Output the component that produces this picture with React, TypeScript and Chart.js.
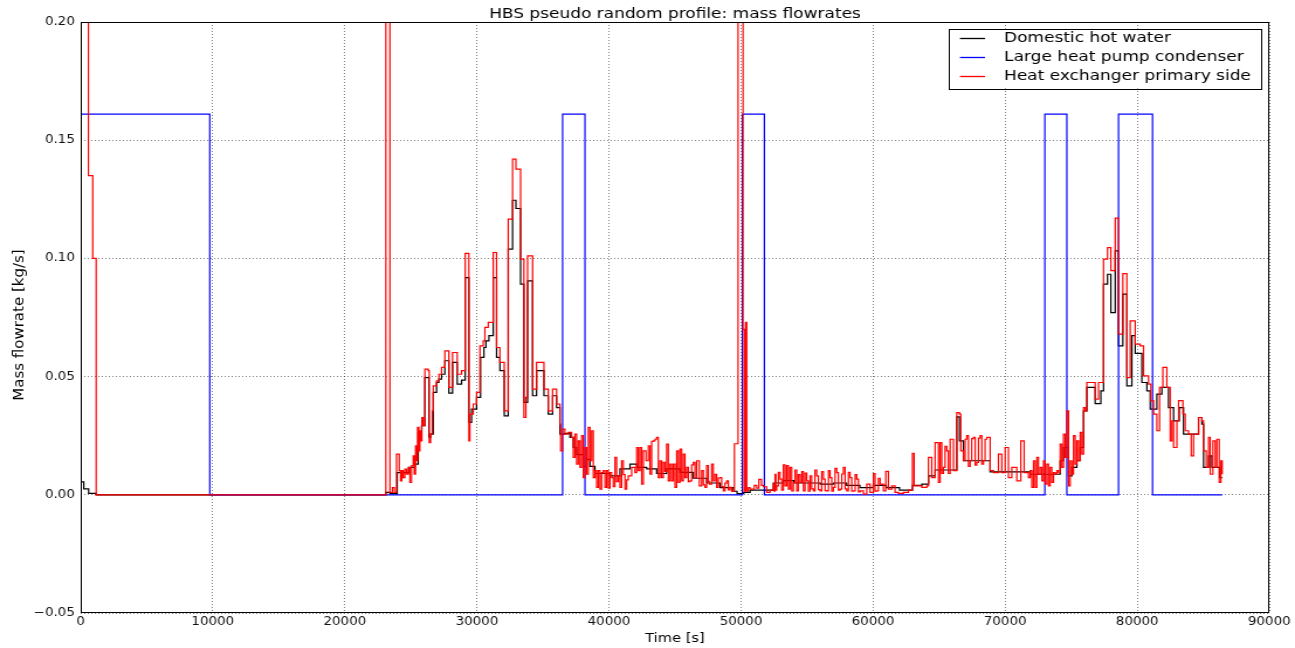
import React, { useEffect, useRef } from 'react';
import { Chart, registerables } from 'chart.js';

Chart.register(...registerables);

// ---- text ----
const TITLE = 'HBS pseudo random profile: mass flowrates';
const X_TITLE = 'Time [s]';
const Y_TITLE = 'Mass flowrate [kg/s]';
const SERIES_LABELS = ['Domestic hot water', 'Large heat pump condenser', 'Heat exchanger primary side'];
const SERIES_COLORS = ['#000000', '#0000ff', '#ff0000'];

// ---- axes ----
const X_MIN = 0;
const X_MAX = 90000;
const X_STEP = 10000;
const Y_MIN = -0.05;
const Y_MAX = 0.2;
const Y_STEP = 0.05;

// ---- data: [time s, mass flowrate kg/s], value holds until next time ----
const condenserSeries: [number, number][] = [
  [0, 0.161], [9773, 0], [36490, 0.161], [38182, 0], [50099, 0.161], [51767, 0],
  [73005, 0.161], [74672, 0], [78585, 0.161], [81160, 0], [86438, 0],
];

const dhwSeries: [number, number][] = [
  [0, 0.0055], [230, 0.0025], [600, 0.0006], [1170, 0], [23106, 0.001], [23409, 0.0005],
  [23965, 0.0094], [24874, 0.0116], [25303, 0.013], [25555, 0.0257], [25808, 0.0292], [26060, 0.0496],
  [26363, 0.0243], [26490, 0.0257], [26692, 0.0433], [26944, 0.0475], [27121, 0.0489], [27323, 0.051],
  [27575, 0.0567], [27878, 0.043], [28156, 0.056], [28509, 0.0468], [28838, 0.0485], [29116, 0.0919],
  [29393, 0.0306], [29595, 0.0362], [29974, 0.0412], [30277, 0.0581], [30530, 0.0623], [30681, 0.0651],
  [30908, 0.0673], [31237, 0.0919], [31489, 0.0581], [31742, 0.0525], [32070, 0.0334], [32373, 0.1039],
  [32701, 0.1246], [32953, 0.1211], [33307, 0.0891], [33560, 0.0391], [33837, 0.0905], [34216, 0.0419],
  [34519, 0.0525], [35075, 0.0419], [35403, 0.0341], [35731, 0.0419], [36034, 0.0369], [36287, 0.0257],
  [36667, 0.026], [37045, 0.0243], [37298, 0.02], [37550, 0.017], [38056, 0.012], [38308, 0.015],
  [38561, 0.012], [38939, 0.009], [40076, 0.008], [40833, 0.011], [41591, 0.013], [42096, 0.0116],
  [42853, 0.011], [43611, 0.009], [44368, 0.011], [45378, 0.0095], [46388, 0.007], [47398, 0.005],
  [48408, 0.003], [49418, 0.0015], [49700, 0.0005], [50200, 0.001], [50682, 0.002], [51700, 0.002],
  [52450, 0.005], [53200, 0.006], [54000, 0.005], [55000, 0.005], [56000, 0.0045], [57000, 0.005],
  [58000, 0.004], [59000, 0.003], [60000, 0.004], [61000, 0.003], [62000, 0.002], [62979, 0.004],
  [63700, 0.0045], [64200, 0.008], [64700, 0.0105], [65500, 0.0105], [66337, 0.033], [66540, 0.0228],
  [66842, 0.0144], [68862, 0.0097], [69700, 0.0097], [71894, 0.0087], [73030, 0.0087], [74167, 0.0144],
  [74419, 0.02], [74798, 0.008], [75050, 0.0116], [75429, 0.0144], [75682, 0.02], [75934, 0.0355],
  [76187, 0.0454], [76818, 0.0386], [77247, 0.044], [77449, 0.0891], [77752, 0.0933], [78005, 0.0771],
  [78333, 0.1032], [78585, 0.063], [78914, 0.0849], [79217, 0.0461], [79595, 0.0673], [79848, 0.0598],
  [80353, 0.0475], [80732, 0.044], [80984, 0.0362], [81489, 0.0426], [81868, 0.0454], [82373, 0.0369],
  [82752, 0.0313], [83181, 0.0369], [83509, 0.0257], [84645, 0.0327], [84898, 0.0299], [85024, 0.0116],
  [85403, 0.0165], [85655, 0.0116], [86236, 0.0073], [86438, 0.0073],
];

const primarySeries: [number, number][] = [
  [0, 0.3], [583, 0.135], [910, 0.1], [1170, 0], [23106, 0.3], [23409, 0.001], [23600, 0.003], [23750, 0.001],
  [23914, 0.0172], [24116, 0.0102], [24217, 0.0059], [24318, 0.0102], [24419, 0.0073], [24545, 0.0109],
  [24672, 0.0087], [24798, 0.0116], [24924, 0.0052], [25050, 0.0123], [25177, 0.0165], [25252, 0.0087],
  [25353, 0.0207], [25429, 0.0144], [25505, 0.0285], [25606, 0.0186], [25682, 0.0271], [25757, 0.0228],
  [25833, 0.0327], [25934, 0.0292], [26060, 0.0532], [26313, 0.0525], [26389, 0.0221], [26490, 0.0257],
  [26616, 0.0355], [26692, 0.0461], [26944, 0.0482], [27121, 0.051], [27323, 0.0539], [27575, 0.0609],
  [27878, 0.0454], [28156, 0.0602], [28509, 0.051], [28838, 0.0525], [29116, 0.1021], [29393, 0.0228],
  [29469, 0.0341], [29722, 0.0384], [29974, 0.0433], [30227, 0.063], [30479, 0.0651], [30605, 0.0708],
  [30858, 0.0729], [31237, 0.1025], [31489, 0.0623], [31742, 0.056], [32070, 0.0355], [32373, 0.1166],
  [32701, 0.142], [32953, 0.1378], [33307, 0.0997], [33560, 0.0327], [33711, 0.0412], [33837, 0.1011],
  [34216, 0.0447], [34519, 0.056], [35075, 0.0447], [35403, 0.0355], [35731, 0.0447], [36034, 0.0384],
  [36287, 0.0299], [36339, 0.0186], [36490, 0.0278], [36667, 0.0257], [36919, 0.0264], [37172, 0.0243],
  [37298, 0.0158], [37424, 0.0257], [37551, 0.013], [37677, 0.0228], [37803, 0.0116], [37929, 0.025],
  [38056, 0.0073], [38182, 0.02], [38308, 0.0087], [38434, 0.0285], [38561, 0.0144], [38687, 0.0271],
  [38813, 0.0073], [38939, 0.0102], [39066, 0.0031], [39192, 0.0102], [39318, 0.0024], [39444, 0.0094],
  [39571, 0.0102], [39697, 0.0031], [39823, 0.0102], [39949, 0.0028], [40076, 0.0094], [40202, 0.0073],
  [40328, 0.0035], [40454, 0.0158], [40581, 0.0056], [40707, 0.008], [40833, 0.0031], [40959, 0.0144],
  [41086, 0.0085], [41212, 0.0024], [41338, 0.0063], [41464, 0.008], [41717, 0.0116], [41969, 0.0094],
  [42096, 0.02], [42222, 0.0102], [42348, 0.02], [42474, 0.0045], [42601, 0.0186], [42803, 0.0144],
  [42979, 0.0207], [43106, 0.0087], [43232, 0.0226], [43358, 0.0228], [43484, 0.0235], [43611, 0.0243],
  [43737, 0.0073], [43863, 0.0144], [43989, 0.0073], [44116, 0.0137], [44242, 0.0099], [44368, 0.0214],
  [44494, 0.0059], [44621, 0.013], [44747, 0.0059], [44873, 0.013], [44999, 0.0031], [45126, 0.0186],
  [45252, 0.0052], [45378, 0.0193], [45504, 0.0059], [45631, 0.0172], [45757, 0.0073], [45883, 0.0116],
  [46009, 0.0056], [46136, 0.0059], [46262, 0.0127], [46388, 0.0137], [46514, 0.0071], [46641, 0.0144],
  [46843, 0.0038], [47019, 0.0102], [47146, 0.0042], [47272, 0.0031], [47398, 0.0123], [47524, 0.0056],
  [47600, 0.0045], [47777, 0.013], [47903, 0.0059], [48029, 0.0087], [48156, 0.0031], [48282, 0.0071],
  [48408, 0.0073], [48534, 0.0035], [48661, 0.0017], [48787, 0.0049], [48913, 0.0059], [49039, 0.0021],
  [49166, 0.0031], [49292, 0.0014], [49418, 0.0017], [49500, 0.0216], [49773, 0.3], [50152, 0.07],
  [50230, 0.0015], [50340, 0.073], [50430, 0.0015], [50550, 0.003], [50682, 0.0024], [51000, 0.004],
  [51187, 0.0028], [51350, 0.0065], [51550, 0.004], [51692, 0.0034], [51945, 0.001], [52197, 0.002],
  [52450, 0.0045], [52513, 0.0015], [52576, 0.0087], [52640, 0.002], [52702, 0.0038], [52830, 0.0095],
  [52955, 0.0066], [53080, 0.002], [53207, 0.0127], [53333, 0.0038], [53460, 0.0123], [53586, 0.0024],
  [53712, 0.0116], [53838, 0.0017], [53965, 0.0052], [54090, 0.0105], [54217, 0.0017], [54340, 0.0085],
  [54470, 0.0052], [54600, 0.0098], [54722, 0.0017], [54850, 0.0092], [54975, 0.0059], [55100, 0.0015],
  [55227, 0.008], [55350, 0.0025], [55480, 0.0017], [55600, 0.0105], [55732, 0.008], [55860, 0.0022],
  [55985, 0.0017], [56110, 0.0098], [56237, 0.0066], [56360, 0.0018], [56490, 0.0017], [56620, 0.0102],
  [56742, 0.0073], [56870, 0.0015], [56995, 0.0031], [57120, 0.0112], [57247, 0.0094], [57370, 0.002],
  [57500, 0.0024], [57630, 0.0088], [57752, 0.0116], [57880, 0.0025], [58005, 0.0017], [58130, 0.0095],
  [58257, 0.0073], [58380, 0.0015], [58510, 0.0017], [58640, 0.0085], [58762, 0.0066], [58890, 0.0012],
  [59015, 0.0017], [59267, 0.0003], [59520, 0.0045], [59772, 0.001], [60025, 0.009], [60150, 0.0015],
  [60277, 0.0017], [60400, 0.007], [60530, 0.0045], [60782, 0.0017], [60959, 0.0099], [61160, 0.0024],
  [61413, 0.0038], [61665, 0.001], [61918, 0.0006], [62297, 0.001], [62676, 0.002], [62979, 0.0175],
  [63105, 0.0038], [63307, 0.0038], [63686, 0.0031], [64065, 0.0038], [64191, 0.0158], [64443, 0.0073],
  [64696, 0.0221], [64948, 0.0052], [65075, 0.0221], [65200, 0.009], [65327, 0.0116], [65450, 0.0205],
  [65580, 0.0186], [65700, 0.009], [65832, 0.0235], [66085, 0.0102], [66337, 0.0348], [66539, 0.0341],
  [66640, 0.0186], [66842, 0.0144], [66970, 0.0235], [67095, 0.025], [67220, 0.012], [67347, 0.0144],
  [67470, 0.0238], [67600, 0.0243], [67730, 0.0125], [67852, 0.0137], [67980, 0.024], [68105, 0.025],
  [68230, 0.013], [68357, 0.0144], [68480, 0.0235], [68610, 0.0243], [68862, 0.0102], [69115, 0.0094],
  [69493, 0.0172], [69746, 0.0094], [69998, 0.02], [70251, 0.0073], [70503, 0.0116], [70882, 0.0059],
  [71185, 0.0228], [71438, 0.0094], [71766, 0.0073], [71894, 0.0102], [72020, 0.0031], [72147, 0.0144],
  [72273, 0.0031], [72399, 0.0158], [72525, 0.0087], [72652, 0.0116], [72778, 0.0059], [72904, 0.0144],
  [73030, 0.0045], [73157, 0.013], [73283, 0.0038], [73409, 0.0116], [73535, 0.0052], [73662, 0.0094],
  [73788, 0.0087], [73914, 0.0102], [74040, 0.0094], [74167, 0.0214], [74293, 0.0116], [74419, 0.0257],
  [74545, 0.0158], [74672, 0.0355], [74798, 0.0038], [74924, 0.0144], [75050, 0.0087], [75177, 0.025],
  [75303, 0.013], [75429, 0.0228], [75555, 0.0144], [75682, 0.0264], [75808, 0.0172], [75934, 0.0369],
  [76060, 0.0355], [76187, 0.0475], [76439, 0.0475], [76818, 0.0405], [77070, 0.0475], [77449, 0.0997],
  [77752, 0.1046], [78005, 0.0948], [78333, 0.117], [78585, 0.068], [78914, 0.0936], [79217, 0.0496],
  [79469, 0.0736], [79848, 0.0637], [80227, 0.063], [80479, 0.0503], [80858, 0.0468], [81035, 0.0398],
  [81237, 0.0341], [81489, 0.0271], [81691, 0.0454], [81944, 0.0539], [82247, 0.0454], [82499, 0.0228],
  [82625, 0.0313], [82752, 0.02], [83004, 0.0313], [83130, 0.0398], [83459, 0.0341], [83636, 0.0271],
  [83888, 0.0257], [84090, 0.0165], [84267, 0.0257], [84645, 0.0327], [84898, 0.0313], [85024, 0.0186],
  [85226, 0.0116], [85403, 0.0243], [85529, 0.0087], [85731, 0.0228], [85908, 0.0116], [86034, 0.0235],
  [86211, 0.0052], [86337, 0.0144], [86438, 0.0087],
];

// ---- canvas geometry (the reference is horizontally stretched) ----
const CANVAS_W = 1107;
const CANVAS_H = 648;
const DISPLAY_W = 1295;
const FONT = '"DejaVu Sans", "Liberation Sans", sans-serif';

const toPoints = (s: [number, number][]) => s.map(([x, y]) => ({ x, y }));

const fmtY = (v: number) => {
  if (Math.abs(v) < 1e-9) return '0.00';
  return v.toFixed(2).replace('-', '\u2212');
};

const decorPlugin = {
  id: 'decor',
  afterDraw(chart: any) {
    const { ctx, chartArea: a } = chart;
    ctx.save();
    // frame
    ctx.strokeStyle = '#000';
    ctx.lineWidth = 1;
    const l = Math.round(a.left) + 0.5;
    const t = Math.round(a.top) + 0.5;
    const r = Math.round(a.right) - 0.5;
    const b = Math.round(a.bottom) - 0.5;
    ctx.strokeRect(l, t, r - l, b - t);

    // title
    ctx.fillStyle = '#000';
    ctx.textAlign = 'center';
    ctx.textBaseline = 'alphabetic';
    ctx.font = `14.5px ${FONT}`;
    ctx.fillText(TITLE, (a.left + a.right) / 2, 17.5);

    // x title
    ctx.font = `12.5px ${FONT}`;
    ctx.fillText(X_TITLE, (a.left + a.right) / 2, 641.5);

    // y title
    ctx.save();
    ctx.translate(20, 325);
    ctx.rotate(-Math.PI / 2);
    ctx.scale(1.25, 1);
    ctx.font = `12px ${FONT}`;
    ctx.textAlign = 'center';
    ctx.textBaseline = 'alphabetic';
    ctx.fillText(Y_TITLE, 0, 0);
    ctx.restore();

    // legend
    const bx = 811.3, by = 28.7, bw = 266.7, bh = 59.6;
    ctx.fillStyle = '#fff';
    ctx.fillRect(bx, by, bw, bh);
    ctx.strokeStyle = '#000';
    ctx.lineWidth = 1;
    ctx.strokeRect(Math.round(bx) + 0.5, Math.round(by) + 0.5, Math.round(bw), Math.round(bh));
    const rows = [38.3, 57.3, 76];
    ctx.font = `14.5px ${FONT}`;
    ctx.textAlign = 'left';
    ctx.textBaseline = 'middle';
    SERIES_LABELS.forEach((lab, i) => {
      const y = rows[i];
      ctx.strokeStyle = SERIES_COLORS[i];
      ctx.lineWidth = 1.3;
      ctx.beginPath();
      ctx.moveTo(820.6, Math.round(y) + 0.5);
      ctx.lineTo(842, Math.round(y) + 0.5);
      ctx.stroke();
      ctx.fillStyle = '#000';
      ctx.fillText(lab, 858.3, y);
    });
    ctx.restore();
  },
};

export default function App() {
  const ref = useRef<HTMLCanvasElement | null>(null);

  useEffect(() => {
    const canvas = ref.current;
    if (!canvas) return;
    const gridCfg = { color: 'rgba(0,0,0,0.5)', lineWidth: 1, drawTicks: false };
    const borderCfg = { display: false, dash: [1, 2] };
    const tickFont = { family: FONT, size: 11.5 };
    const mk = (i: number, series: [number, number][], order: number) => ({
      label: SERIES_LABELS[i],
      data: toPoints(series),
      borderColor: SERIES_COLORS[i],
      borderWidth: 1.2,
      stepped: 'before',
      pointRadius: 0,
      fill: false,
      order,
    });
    const chart = new Chart(canvas, {
      type: 'line',
      data: {
        datasets: [mk(0, dhwSeries, 2), mk(1, condenserSeries, 1), mk(2, primarySeries, 0)],
      },
      options: {
        animation: false,
        responsive: false,
        maintainAspectRatio: false,
        devicePixelRatio: 1,
        layout: { padding: { left: 0, right: 22, top: 22, bottom: 0 } },
        plugins: {
          legend: { display: false },
          tooltip: { enabled: false },
          title: { display: false },
        },
        elements: { point: { radius: 0 }, line: { tension: 0 } },
        scales: {
          x: {
            type: 'linear',
            min: X_MIN,
            max: X_MAX,
            ticks: {
              stepSize: X_STEP,
              autoSkip: false,
              maxRotation: 0,
              color: '#111',
              font: tickFont,
              padding: 2,
              callback: (v: any) => String(Math.round(Number(v))),
            },
            grid: gridCfg,
            border: borderCfg,
            afterFit: (s: any) => {
              s.height = 35;
            },
          },
          y: {
            type: 'linear',
            min: Y_MIN,
            max: Y_MAX,
            ticks: {
              stepSize: Y_STEP,
              autoSkip: false,
              color: '#111',
              font: tickFont,
              padding: 5,
              callback: (v: any) => fmtY(Number(v)),
            },
            grid: gridCfg,
            border: borderCfg,
            afterFit: (s: any) => {
              s.width = 69;
            },
          },
        },
      } as any,
      plugins: [decorPlugin],
    });
    return () => chart.destroy();
  }, []);

  return (
    <div style={{ position: 'fixed', left: 0, top: 0, width: DISPLAY_W, height: CANVAS_H, background: '#fff' }}>
      <canvas
        ref={ref}
        width={CANVAS_W}
        height={CANVAS_H}
        style={{ width: `${DISPLAY_W}px`, height: `${CANVAS_H}px`, display: 'block' }}
      />
    </div>
  );
}
